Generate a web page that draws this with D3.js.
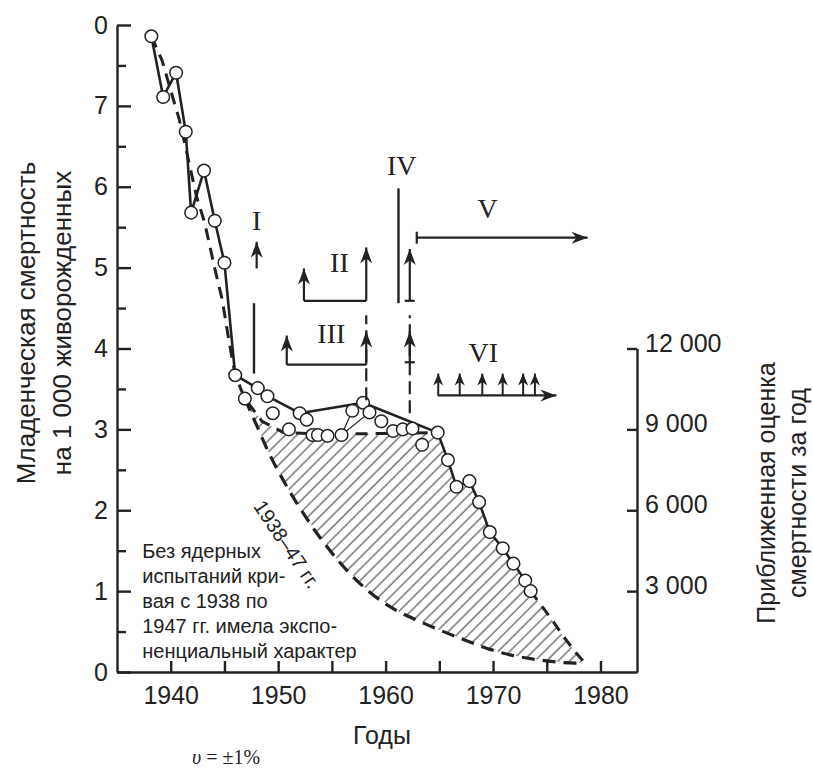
<!DOCTYPE html>
<html>
<head>
<meta charset="utf-8">
<script src="https://cdn.jsdelivr.net/npm/d3@7"></script>
<style>
  body { margin: 0; background: #fff; }
  svg text { font-family: "Liberation Sans", Arial, sans-serif; fill: #222; }
  svg .serif { font-family: "Liberation Serif", "Times New Roman", serif; }
</style>
</head>
<body>
<div id="chart"></div>
<script>
// observed infant mortality, [year, per 1000 live births] - connected by the solid line
var observed = [
  [1938.2, 7.86], [1939.3, 7.11], [1940.5, 7.41], [1941.4, 6.68], [1941.9, 5.68],
  [1943.1, 6.20], [1944.1, 5.58], [1945.0, 5.06], [1946.0, 3.67], [1948.1, 3.51],
  [1949.0, 3.41], [1952.0, 3.20], [1957.9, 3.33], [1964.85, 2.96], [1965.8, 2.62],
  [1966.6, 2.29], [1967.8, 2.36], [1968.7, 2.10], [1969.7, 1.73], [1970.9, 1.53],
  [1971.9, 1.34], [1973.0, 1.13], [1973.5, 1.00]
];
// single points not on the solid line
var scatterOnly = [
  [1946.9, 3.38], [1949.5, 3.20], [1951.0, 3.00], [1952.65, 3.12], [1953.2, 2.93],
  [1953.7, 2.93], [1954.6, 2.92], [1955.9, 2.93], [1956.9, 3.23], [1958.5, 3.21],
  [1959.6, 3.10], [1960.7, 2.98], [1961.6, 3.00], [1962.5, 3.01], [1963.4, 2.81]
];
var thinLinks = [
  [[1955.9, 2.93], [1956.9, 3.23]],
  [[1955.9, 2.93], [1958.5, 3.21]]
];
// dashed trend (upper)
var trend = [
  [1938.2, 7.86], [1939.2, 7.56], [1940.2, 7.10], [1940.8, 6.83], [1941.5, 6.42],
  [1942.4, 5.88], [1943.15, 5.56], [1944.1, 4.99], [1944.8, 4.60], [1945.4, 4.11],
  [1946.0, 3.67], [1946.9, 3.38], [1948.5, 3.10], [1950.5, 2.96], [1955.0, 2.94],
  [1960.0, 2.95], [1964.85, 2.96]
];
var tail = [[1973.5, 1.00], [1975.3, 0.68], [1976.5, 0.45], [1977.7, 0.24], [1978.5, 0.12]];
// exponential extrapolation of 1938-47
var expCurve = [
  [1946.9, 3.38], [1947.8, 3.11], [1949.1, 2.72], [1951.0, 2.25], [1952.9, 1.85],
  [1955.7, 1.36], [1958.5, 0.99], [1961.3, 0.74], [1963.1, 0.63], [1965.0, 0.52],
  [1967.3, 0.40], [1969.7, 0.28], [1972.0, 0.20], [1974.8, 0.14], [1977.6, 0.11],
  [1978.5, 0.12]
];

var yearTicks = [1940, 1950, 1960, 1970, 1980];
var yearMinor = [1945, 1955, 1965, 1975];
var leftTicks = [0, 1, 2, 3, 4, 5, 6, 7, 8];
var leftLabels = ["0", "1", "2", "3", "4", "5", "6", "7", "0"];
var leftMinor = [0.5, 1.5, 2.5, 3.5, 4.5, 5.5, 6.5, 7.5];
var rightTicks = [3000, 6000, 9000, 12000];

var noteLines = ["Без ядерных", "испытаний кри-", "вая с 1938 по", "1947 гг. имела экспо-", "ненциальный характер"];

// event marks I..VI
var romanLabels = [
  { text: "I", year: 1948.0, value: 5.58 }, { text: "II", year: 1955.7, value: 5.06 },
  { text: "III", year: 1954.95, value: 4.19 }, { text: "IV", year: 1961.5, value: 6.26 },
  { text: "V", year: 1969.5, value: 5.73 }, { text: "VI", year: 1969.1, value: 3.95 }
];
var upArrows = [
  { year: 1948.0, from: 4.99, to: 5.32 },
  { year: 1952.4, from: 4.59, to: 4.99 }, { year: 1958.2, from: 4.59, to: 5.25 },
  { year: 1950.8, from: 3.80, to: 4.16 }, { year: 1958.2, from: 3.80, to: 4.21 },
  { year: 1962.25, from: 4.59, to: 5.23 }, { year: 1962.25, from: 3.83, to: 4.21 }
];
var smallArrows = [1964.9, 1966.9, 1969.0, 1970.9, 1972.8, 1973.9];
var bases = [
  { from: 1952.4, to: 1958.2, value: 4.59 }, { from: 1950.8, to: 1958.2, value: 3.80 }
];
var solidMarks = [
  { year: 1947.75, from: 3.69, to: 4.56 }, { year: 1961.2, from: 4.56, to: 5.98 }
];
var dashedMarks = [
  { year: 1958.2, from: 3.36, to: 4.41 }, { year: 1962.25, from: 3.20, to: 4.41 }
];
var arrowV = { from: 1962.9, to: 1978.8, value: 5.37 };
var arrowVI = { from: 1964.85, to: 1975.9, value: 3.42, top: 3.69 };

var W = 813, H = 772;
var ink = "#222";

var svg = d3.select("#chart").append("svg")
  .attr("width", W).attr("height", H);

var x = d3.scaleLinear().domain([1935, 1983.4]).range([117, 637]);
var y = d3.scaleLinear().domain([0, 8]).range([672, 25]);
var yR = d3.scaleLinear().domain([0, 12000]).range([y(0), y(4)]);

var defs = svg.append("defs");
function addHead(id, len, half) {
  defs.append("marker")
    .attr("id", id)
    .attr("viewBox", (-len - 1) + " " + (-half - 1) + " " + (len + 2) + " " + (2 * half + 2))
    .attr("refX", 0).attr("refY", 0)
    .attr("markerWidth", len + 2).attr("markerHeight", 2 * half + 2)
    .attr("markerUnits", "userSpaceOnUse")
    .attr("orient", "auto")
    .append("path")
    .attr("d", "M0,0 L" + (-len) + "," + (-half) + " L" + (-len * 0.7) + ",0 L" + (-len) + "," + half + " Z")
    .attr("fill", ink);
}
addHead("head", 16, 6);
addHead("headS", 12, 5);

var pat = defs.append("pattern")
  .attr("id", "hatch")
  .attr("patternUnits", "userSpaceOnUse")
  .attr("width", 8.2).attr("height", 10)
  .attr("patternTransform", "rotate(45)");
pat.append("line")
  .attr("x1", 1).attr("y1", 0).attr("x2", 1).attr("y2", 10)
  .attr("stroke", "#333").attr("stroke-width", 1);

// hatched area between the extrapolation and the observed values
var upperBound = trend.filter(function(d) { return d[0] >= 1946.9; })
  .concat(observed.filter(function(d) { return d[0] > 1964.85; }))
  .concat(tail.slice(1));
var hatchPoly = upperBound.concat(expCurve.slice().reverse());
svg.append("path")
  .attr("d", d3.line().x(function(d) { return x(d[0]); }).y(function(d) { return y(d[1]); })(hatchPoly) + "Z")
  .attr("fill", "url(#hatch)")
  .attr("stroke", "none");

// axes
svg.append("g").attr("transform", "translate(" + x.range()[0] + ",0)")
  .call(d3.axisLeft(y).tickValues(leftTicks).tickSize(-14).tickSizeOuter(0).tickPadding(9)
    .tickFormat(function(d, i) { return leftLabels[i]; }));
svg.append("g").attr("transform", "translate(" + x.range()[0] + ",0)")
  .call(d3.axisLeft(y).tickValues(leftMinor).tickSize(-9).tickSizeOuter(0).tickFormat(""))
  .select(".domain").remove();

svg.append("g").attr("transform", "translate(0," + y(0) + ")")
  .call(d3.axisBottom(x).tickValues(yearTicks).tickSize(-11).tickSizeOuter(0).tickPadding(14)
    .tickFormat(d3.format("d")));
svg.append("g").attr("transform", "translate(0," + y(0) + ")")
  .call(d3.axisBottom(x).tickValues(yearMinor).tickSize(-11).tickSizeOuter(0).tickFormat(""))
  .select(".domain").remove();

var axR = svg.append("g").attr("transform", "translate(" + x.range()[1] + ",0)")
  .call(d3.axisRight(yR).tickValues(rightTicks).tickSize(-10).tickSizeOuter(0).tickPadding(8)
    .tickFormat(function(d) { return d3.format(",")(d).replace(",", " "); }));
axR.selectAll("text").attr("dy", "0.1em");

svg.selectAll(".domain, .tick line").attr("stroke", ink).attr("stroke-width", 2.4);
svg.selectAll(".tick text").attr("fill", ink).style("font-size", "25px");

// axis titles
var titleL = ["Младенческая смертность", "на 1 000 живорожденных"];
titleL.forEach(function(t, i) {
  svg.append("text")
    .attr("transform", "translate(" + (26 + i * 36) + ",323) rotate(-90)")
    .attr("text-anchor", "middle").attr("dominant-baseline", "central")
    .style("font-size", "26px").text(t);
});
var titleR = ["Приближенная оценка", "смертности за год"];
titleR.forEach(function(t, i) {
  svg.append("text")
    .attr("transform", "translate(" + (766 + i * 31) + ",493) rotate(-90)")
    .attr("text-anchor", "middle").attr("dominant-baseline", "central")
    .style("font-size", "25px").text(t);
});
svg.append("text")
  .attr("x", (x(1935) + x(1983.4)) / 2 + 5).attr("y", 744)
  .attr("text-anchor", "middle").style("font-size", "25px").text("Годы");
var acc = svg.append("text")
  .attr("class", "serif").attr("x", 226).attr("y", 764)
  .attr("text-anchor", "middle").style("font-size", "20px");
acc.append("tspan").style("font-style", "italic").text("υ");
acc.append("tspan").text(" = ±1%");

var line = d3.line().x(function(d) { return x(d[0]); }).y(function(d) { return y(d[1]); });
var smooth = d3.line().curve(d3.curveMonotoneX)
  .x(function(d) { return x(d[0]); }).y(function(d) { return y(d[1]); });

// exponential extrapolation (lower dashed curve)
svg.append("path").attr("d", smooth(expCurve))
  .attr("fill", "none").attr("stroke", ink).attr("stroke-width", 3.2)
  .attr("stroke-dasharray", "13,8");

// upper dashed trend and tail
svg.append("path").attr("d", line(trend))
  .attr("fill", "none").attr("stroke", ink).attr("stroke-width", 3)
  .attr("stroke-dasharray", "12,8");
svg.append("path").attr("d", line(tail))
  .attr("fill", "none").attr("stroke", ink).attr("stroke-width", 3)
  .attr("stroke-dasharray", "11,8");

svg.selectAll(".link").data(thinLinks).enter().append("path")
  .attr("class", "link").attr("d", line)
  .attr("fill", "none").attr("stroke", ink).attr("stroke-width", 1.2);

// observed solid line
svg.append("path").attr("d", line(observed))
  .attr("fill", "none").attr("stroke", ink).attr("stroke-width", 2.6)
  .attr("stroke-linejoin", "round");

svg.selectAll(".pt").data(observed.concat(scatterOnly)).enter().append("circle")
  .attr("class", "pt")
  .attr("cx", function(d) { return x(d[0]); })
  .attr("cy", function(d) { return y(d[1]); })
  .attr("r", 6.3)
  .attr("fill", "#fff").attr("stroke", ink).attr("stroke-width", 1.5);

// note and curve label
var note = svg.append("text").style("font-size", "20px");
noteLines.forEach(function(t, i) {
  note.append("tspan").attr("x", x(1937.35)).attr("y", y(1.41) + i * 25).text(t);
});
svg.append("text")
  .attr("transform", "translate(" + x(1950.8) + "," + y(1.58) + ") rotate(56)")
  .attr("text-anchor", "middle").attr("dominant-baseline", "central")
  .style("font-size", "20px").text("1938–47 гг.");

// event marks
var ev = svg.append("g").attr("stroke", ink).attr("fill", "none");
ev.selectAll(".solidMark").data(solidMarks).enter().append("line")
  .attr("x1", function(d) { return x(d.year); }).attr("x2", function(d) { return x(d.year); })
  .attr("y1", function(d) { return y(d.from); }).attr("y2", function(d) { return y(d.to); })
  .attr("stroke-width", 2.4);
ev.selectAll(".dashMark").data(dashedMarks).enter().append("line")
  .attr("x1", function(d) { return x(d.year); }).attr("x2", function(d) { return x(d.year); })
  .attr("y1", function(d) { return y(d.from); }).attr("y2", function(d) { return y(d.to); })
  .attr("stroke-width", 2.2).attr("stroke-dasharray", "13,6");
ev.selectAll(".base").data(bases).enter().append("line")
  .attr("x1", function(d) { return x(d.from); }).attr("x2", function(d) { return x(d.to); })
  .attr("y1", function(d) { return y(d.value); }).attr("y2", function(d) { return y(d.value); })
  .attr("stroke-width", 2.2);
ev.selectAll(".up").data(upArrows).enter().append("line")
  .attr("x1", function(d) { return x(d.year); }).attr("x2", function(d) { return x(d.year); })
  .attr("y1", function(d) { return y(d.from); }).attr("y2", function(d) { return y(d.to); })
  .attr("stroke-width", 2.2).attr("marker-end", "url(#head)");
// foot bars under the IV arrows
ev.selectAll(".foot").data(upArrows.slice(5)).enter().append("line")
  .attr("x1", function(d) { return x(d.year) - 5; }).attr("x2", function(d) { return x(d.year) + 5; })
  .attr("y1", function(d) { return y(d.from); }).attr("y2", function(d) { return y(d.from); })
  .attr("stroke-width", 2.2);

// V
ev.append("line")
  .attr("x1", x(arrowV.from)).attr("x2", x(arrowV.to))
  .attr("y1", y(arrowV.value)).attr("y2", y(arrowV.value))
  .attr("stroke-width", 2.2).attr("marker-end", "url(#head)");
ev.append("line")
  .attr("x1", x(arrowV.from)).attr("x2", x(arrowV.from))
  .attr("y1", y(arrowV.value) - 6).attr("y2", y(arrowV.value) + 6)
  .attr("stroke-width", 2.2);

// VI
ev.append("line")
  .attr("x1", x(arrowVI.from)).attr("x2", x(arrowVI.to))
  .attr("y1", y(arrowVI.value)).attr("y2", y(arrowVI.value))
  .attr("stroke-width", 2.2).attr("marker-end", "url(#head)");
ev.selectAll(".small").data(smallArrows).enter().append("line")
  .attr("x1", function(d) { return x(d); }).attr("x2", function(d) { return x(d); })
  .attr("y1", y(arrowVI.value)).attr("y2", y(arrowVI.top))
  .attr("stroke-width", 2).attr("marker-end", "url(#headS)");

svg.selectAll(".roman").data(romanLabels).enter().append("text")
  .attr("class", "serif")
  .attr("x", function(d) { return x(d.year); })
  .attr("y", function(d) { return y(d.value); })
  .attr("text-anchor", "middle").attr("dominant-baseline", "central")
  .style("font-size", "28px")
  .text(function(d) { return d.text; });
</script>
</body>
</html>
